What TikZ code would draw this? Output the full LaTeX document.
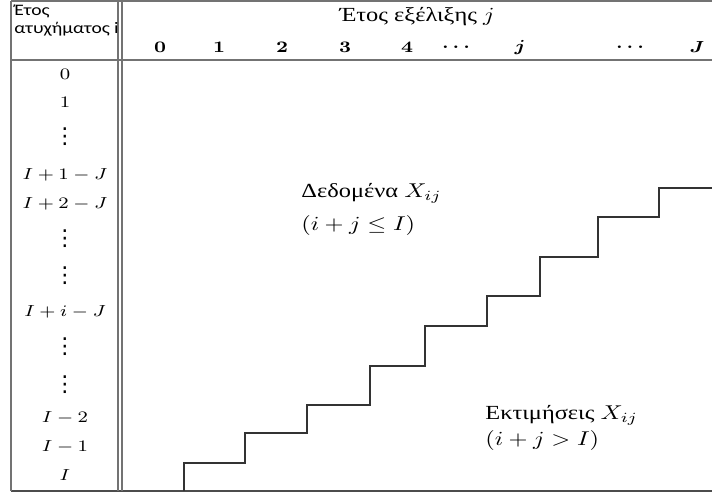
\documentclass[tikz,border=0pt]{standalone}
\usepackage{fontspec}
\usepackage{amsmath}
\usepackage{bm}
\newfontfamily\grserif{Liberation Serif}
\newfontfamily\grsans{Carlito}
\newfontfamily\symfont{DejaVu Sans}
\newcommand{\hstr}[1]{\scalebox{1.22}[1]{#1}}
\newcommand{\myvdots}{{\symfont\fontsize{11}{12}\selectfont ⋮}}
\begin{document}
\begin{tikzpicture}[x=0.5pt,y=-0.5pt,
  rule/.style={draw=black!55,line width=0.8pt},
  stair/.style={draw=black!80,line width=1pt,line join=miter},
  rowlab/.style={inner sep=0pt,font=\fontsize{8.5}{10}\selectfont},
  collab/.style={inner sep=0pt,font=\fontsize{8}{10}\selectfont\boldmath\bfseries},
  txt/.style={inner sep=0pt,anchor=west,font=\fontsize{10}{12}\selectfont\grserif},
  hdr/.style={inner sep=0pt,anchor=west,font=\fontsize{8}{10}\selectfont\grsans}]
\useasboundingbox (0,0) rectangle (712,493);
% frame
\draw[rule] (11,1) -- (712,1);
\draw[rule] (11,60) -- (712,60);
\draw[rule,draw=black!70] (11,491) -- (712,491);
\draw[rule] (11,1) -- (11,491);
\draw[rule] (118,1) -- (118,491);
\draw[rule] (122,1) -- (122,491);
% header left
\node[hdr] (h1) at (14,11) {\hstr{Έτος}};
\node[hdr] (h2) at (14,29) {\hstr{ατυχήματος i}};
% header right
\node[txt,anchor=center] (title) at (417,17) {\hstr{Έτος εξέλιξης $j$}};
\node[collab] (c0) at (160,47) {\hstr{$0$}};
\node[collab] (c1) at (219,47) {\hstr{$1$}};
\node[collab] (c2) at (282,47) {\hstr{$2$}};
\node[collab] (c3) at (345,47) {\hstr{$3$}};
\node[collab] (c4) at (407,47) {\hstr{$4$}};
\node[collab] (cd1) at (458,47) {\hstr{$\dots$}};
\node[collab] (cj) at (520,47) {\hstr{$\bm{j}$}};
\node[collab] (cd2) at (632,47) {\hstr{$\dots$}};
\node[collab] (cJ) at (697,47) {\hstr{$\bm{J}$}};
% row labels
\node[rowlab] (r0) at (65,74) {\hstr{$0$}};
\node[rowlab] (r1) at (65,102) {\hstr{$1$}};
\node[rowlab] (r2) at (65,137) {\myvdots};
\node[rowlab] (r3) at (65,175) {\hstr{$I+1-J$}};
\node[rowlab] (r4) at (65,204) {\hstr{$I+2-J$}};
\node[rowlab] (r5) at (65,239) {\myvdots};
\node[rowlab] (r6) at (65,276) {\myvdots};
\node[rowlab] (r7) at (65,312) {\hstr{$I+i-J$}};
\node[rowlab] (r8) at (65,347) {\myvdots};
\node[rowlab] (r9) at (65,385) {\myvdots};
\node[rowlab] (r10) at (65,418) {\hstr{$I-2$}};
\node[rowlab] (r11) at (65,447) {\hstr{$I-1$}};
\node[rowlab] (r12) at (65,475) {\hstr{$I$}};
% staircase
\draw[stair] (184,491) -- (184,463) -- (245,463) -- (245,433) -- (307,433)
  -- (307,405) -- (370,405) -- (370,366) -- (425,366) -- (425,326)
  -- (487,326) -- (487,296) -- (540,296) -- (540,257) -- (598,257)
  -- (598,217) -- (659,217) -- (659,188) -- (712,188);
% texts
\node[txt] (d1) at (301,193) {\hstr{Δεδομένα $X_{ij}$}};
\node[txt] (d2) at (301,225) {\hstr{$(i+j\leq I)$}};
\node[txt] (e1) at (485,415) {\hstr{Εκτιμήσεις $X_{ij}$}};
\node[txt] (e2) at (485,440) {\hstr{$(i+j>I)$}};
\end{tikzpicture}
\end{document}
